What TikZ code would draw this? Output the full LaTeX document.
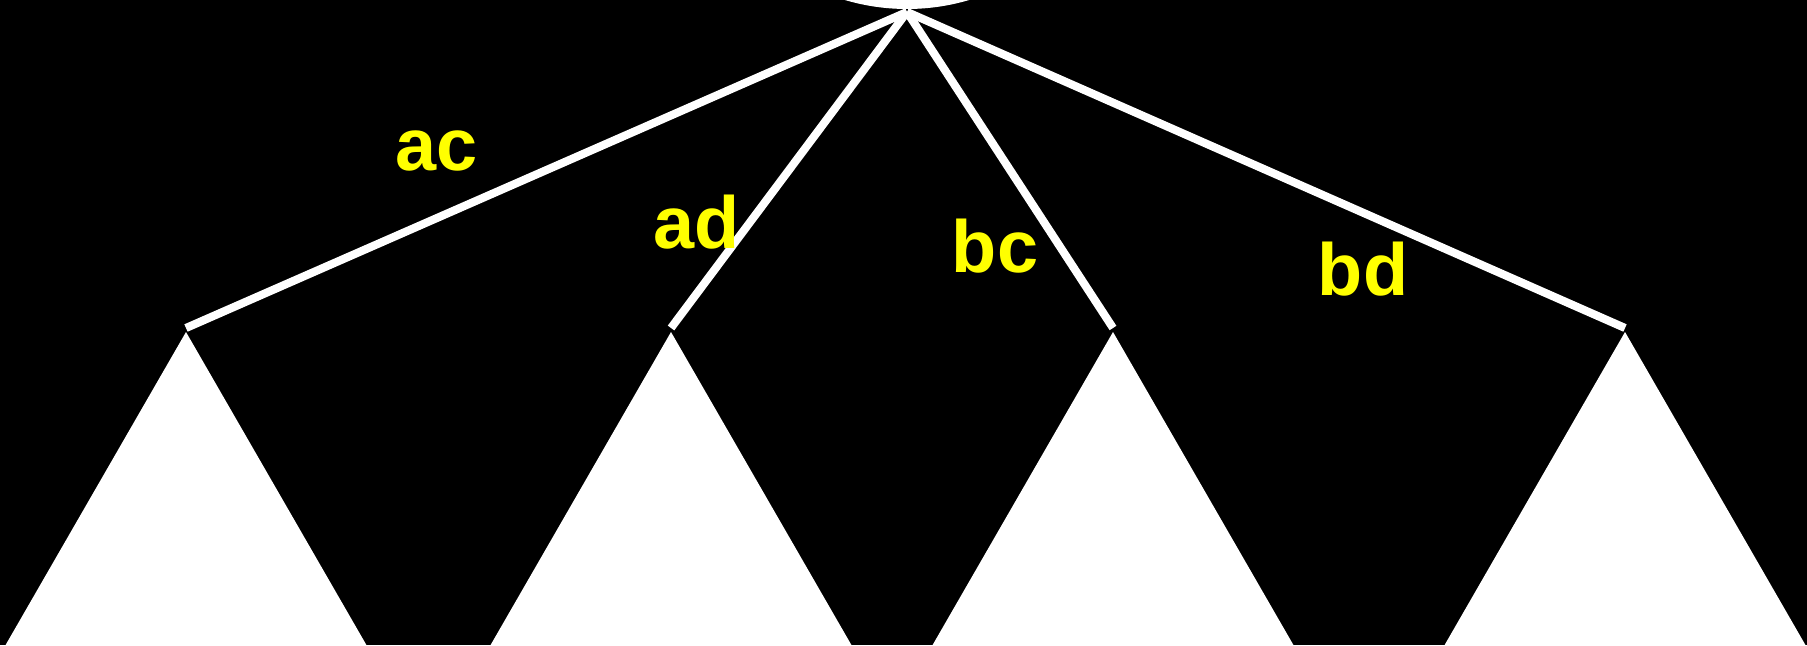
\documentclass[tikz,border=0pt]{standalone}
\usepackage{fontspec}
\setmainfont{Liberation Sans}
\usetikzlibrary{positioning}
\definecolor{labelyellow}{RGB}{255, 255, 0}

\tikzset{
  branch/.style={white, line width=2.3pt},
  subtree/.style={fill=white},
  edgelabel/.style={text=labelyellow, font=\fontsize{21}{25}\selectfont\bfseries, anchor=base, inner sep=0pt}
}

\begin{document}
\begin{tikzpicture}[x=0.01cm, y=0.01cm]
  \useasboundingbox (0,0) rectangle (1807,645);
  \clip (0,0) rectangle (1807,645);
  \fill[black] (0,0) rectangle (1807,645);

  % top node, mostly off the page
  \fill[white] (907,854) circle (218);

  \coordinate (root) at (907,633);
  \foreach \n/\x in {1/186, 2/671, 3/1113, 4/1625} {
    \coordinate (c\n) at (\x,317);
    \fill[subtree] (\x,313) -- ++(-181,-314) -- ++(362,0) -- cycle;
    \draw[branch] (root) -- (c\n);
  }

  \foreach \name/\x/\y in {ac/437/474, ad/697/397, bc/995/373, bd/1363/350} {
    \node[edgelabel] (\name) at (\x,\y) {\name};
  }
\end{tikzpicture}
\end{document}
